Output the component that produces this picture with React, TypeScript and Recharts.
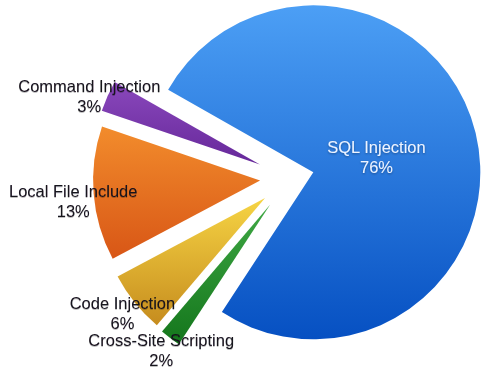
import { PieChart, Pie, Cell } from "recharts";

const categories = [
  "SQL Injection",
  "Command Injection",
  "Local File Include",
  "Code Injection",
  "Cross-Site Scripting",
];
const shares = [76, 3, 13, 6, 2];

const data = categories.map((name, i) => ({ name, value: shares[i] }));

// layout / style
const W = 500;
const H = 374;
const CX = 290;
const CY = 178;
const R = 167;
const START = -123.2;
const END = 236.8;
const explode = [24, 33, 30, 32, 33];
const labelRadius = [65, 184, 188, 183, 182];
const labelNudge = [0, 2.2, 1.7, 0, 0];
const gradients = [
  ["#4c9ff5", "#0650c2"],
  ["#8a48bc", "#66289a"],
  ["#f28c2c", "#d85616"],
  ["#f6d444", "#c68c1e"],
  ["#3fa844", "#14761c"],
];

const RAD = Math.PI / 180;
const total = shares.reduce((a, b) => a + b, 0);
const mids: number[] = [];
let acc = 0;
shares.forEach((v) => {
  mids.push(START + ((acc + v / 2) / total) * (END - START));
  acc += v;
});

export default function App() {
  return (
    <div style={{ position: "absolute", left: 0, top: 0, width: W, height: H, background: "#fff" }}>
      <PieChart width={W} height={H} margin={{ top: 0, right: 0, bottom: 0, left: 0 }}>
        <defs>
          {gradients.map(([a, b], i) => (
            <linearGradient key={i} id={`g${i}`} x1="0" y1="0" x2="0" y2="1">
              <stop offset="0%" stopColor={a} />
              <stop offset="100%" stopColor={b} />
            </linearGradient>
          ))}
          <filter id="shadowDark" x="-10%" y="-30%" width="120%" height="160%">
            <feDropShadow dx="0" dy="1" stdDeviation="0.8" floodColor="#000" floodOpacity="0.35" />
          </filter>
          <filter id="shadowSoft" x="-10%" y="-30%" width="120%" height="160%">
            <feDropShadow dx="0" dy="1" stdDeviation="0.7" floodColor="#000" floodOpacity="0.25" />
          </filter>
        </defs>
        {data.map((d, k) => {
          const ox = CX + explode[k] * Math.cos(mids[k] * RAD);
          const oy = CY - explode[k] * Math.sin(mids[k] * RAD);
          const renderLabel = (p: any) => {
            if (p.index !== k) return null;
            const a = (mids[k] + labelNudge[k]) * RAD;
            const lx = ox + labelRadius[k] * Math.cos(a);
            const ly = oy - labelRadius[k] * Math.sin(a);
            const light = k === 0;
            const fill = light ? "#eef4ff" : "#15121c";
            return (
              <g filter={light ? "url(#shadowDark)" : "url(#shadowSoft)"}>
                <text
                  x={lx}
                  y={ly - 10}
                  textAnchor="middle"
                  dominantBaseline="central"
                  fontFamily="'Liberation Sans', Arial, sans-serif"
                  fontSize={16.5}
                  fill={fill}
                >
                  {d.name}
                </text>
                <text
                  x={lx}
                  y={ly + 10}
                  textAnchor="middle"
                  dominantBaseline="central"
                  fontFamily="'Liberation Sans', Arial, sans-serif"
                  fontSize={16.5}
                  fill={fill}
                >
                  {`${d.value}%`}
                </text>
              </g>
            );
          };
          return (
            <Pie
              key={d.name}
              data={data}
              dataKey="value"
              nameKey="name"
              cx={ox}
              cy={oy}
              outerRadius={R}
              startAngle={START}
              endAngle={END}
              stroke="none"
              label={renderLabel}
              labelLine={false}
              isAnimationActive={false}
            >
              {data.map((_, i) => (
                <Cell key={i} fill={i === k ? `url(#g${i})` : "transparent"} stroke="none" />
              ))}
            </Pie>
          );
        })}
      </PieChart>
    </div>
  );
}
